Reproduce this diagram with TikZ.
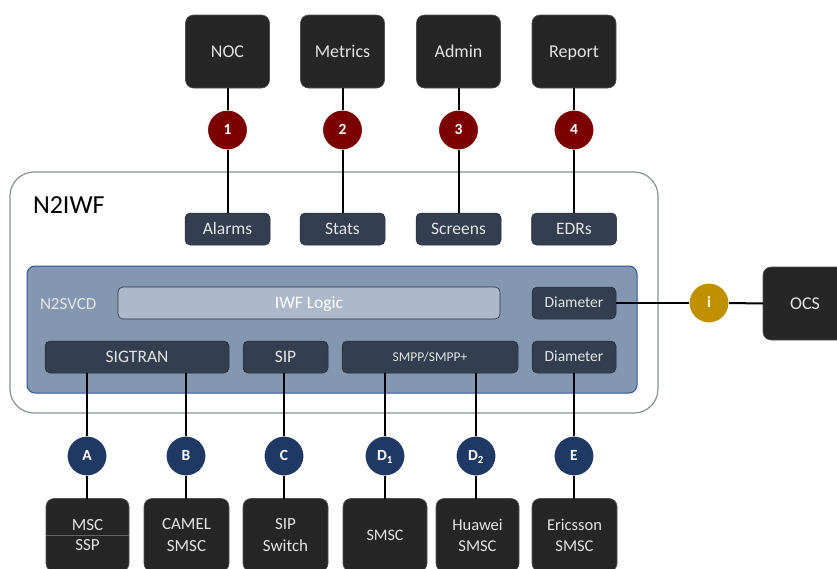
\documentclass[tikz,border=0pt]{standalone}
\usepackage{fontspec}
\setmainfont{Carlito}
\definecolor{boxdark}{HTML}{262626}
\definecolor{slate}{HTML}{333F50}
\definecolor{svcfill}{HTML}{8497B0}
\definecolor{svcedge}{HTML}{2F5597}
\definecolor{logicfill}{HTML}{ADB9CA}
\definecolor{frame}{HTML}{8A909A}
\definecolor{maroon}{HTML}{7B0000}
\definecolor{navy}{HTML}{1F3864}
\definecolor{gold}{HTML}{BF9000}
\definecolor{softtext}{HTML}{E4E4E4}
\begin{document}
\begin{tikzpicture}[x=1pt,y=-1pt,
  font=\fontsize{17}{21}\selectfont,
  every node/.style={inner sep=0pt,outer sep=0pt},
  capcentre/.style={text height=#1,text depth=0pt},
  darkbox/.style={fill=boxdark,draw=boxdark!80!white,line width=0.6pt,rounded corners=8pt,
    minimum width=84pt,minimum height=73pt,text=softtext,align=center},
  endpoint/.style={darkbox,capcentre=11.4pt,font=\fontsize{18}{22}\selectfont},
  lower/.style={darkbox,font=\fontsize{17}{21.5}\selectfont},
  module/.style={fill=slate,draw=slate!70!black,line width=0.5pt,rounded corners=5pt,
    minimum height=32pt,text=softtext,capcentre=11.1pt,font=\fontsize{17.5}{20}\selectfont},
  smallmod/.style={module,capcentre=9.8pt,font=\fontsize{15.5}{18}\selectfont},
  badge/.style={circle,minimum size=40pt,draw=white,line width=1pt,text=white,
    capcentre=9.8pt,font=\bfseries\fontsize{15.5}{17}\selectfont},
  redbadge/.style={badge,fill=maroon},
  bluebadge/.style={badge,fill=navy},
  goldbadge/.style={badge,fill=gold},
  link/.style={line width=2pt,black}]
\clip (0,0) rectangle (837,568);
\fill[white] (0,0) rectangle (837,568);

% outer N2IWF frame and the service container inside it
\node[draw=frame,line width=1.2pt,fill=white,rounded corners=24pt,
  minimum width=648pt,minimum height=241pt] (iwf) at (334,292.5) {};
\node[anchor=west,capcentre=16.4pt,font=\fontsize{26}{30}\selectfont] (iwflabel) at (33,205) {N2IWF};
\node[draw=svcedge,line width=1pt,fill=svcfill,rounded corners=8pt,
  minimum width=610pt,minimum height=127pt] (svcd) at (332,329.5) {};
\node[anchor=west,text=softtext,capcentre=10.8pt,font=\fontsize{17}{20}\selectfont] (svcdlabel) at (40,304) {N2SVCD};

% top endpoints
\node[endpoint] (noc) at (227.5,51.5) {NOC};
\node[endpoint] (metrics) at (342.5,51.5) {Metrics};
\node[endpoint] (admin) at (458.5,51.5) {Admin};
\node[endpoint] (report) at (574,51.5) {Report};

% management outputs
\node[module,minimum width=85pt] (alarms) at (227.5,229) {Alarms};
\node[module,minimum width=85pt] (stats) at (342.5,229) {Stats};
\node[module,minimum width=85pt] (screens) at (458.5,229) {Screens};
\node[module,minimum width=85pt] (edrs) at (574,229) {EDRs};

% service modules
\node[fill=logicfill,draw=slate!80!black,line width=0.6pt,rounded corners=5pt,
  minimum width=382pt,minimum height=32pt,text=white,capcentre=11.1pt,
  font=\fontsize{17.5}{20}\selectfont] (logic) at (309,303) {IWF Logic};
\node[smallmod,minimum width=84pt] (diamtop) at (574,303) {Diameter};
\node[module,minimum width=184pt] (sigtran) at (137,357) {SIGTRAN};
\node[module,minimum width=85pt] (sip) at (285.5,357) {SIP};
\node[smallmod,minimum width=176pt,capcentre=8.5pt,font=\fontsize{13.5}{16}\selectfont] (smpp) at (430,357) {SMPP/SMPP+};
\node[smallmod,minimum width=84pt] (diambot) at (574,357) {Diameter};

% charging side
\node[endpoint] (ocs) at (805,303.5) {OCS};
\node[goldbadge] (bi) at (709,303) {i};

% numbered badges
\node[redbadge] (b1) at (227.5,130) {1};
\node[redbadge] (b2) at (342.5,130) {2};
\node[redbadge] (b3) at (458.5,130) {3};
\node[redbadge] (b4) at (574,130) {4};

\node[bluebadge] (ba) at (87,456) {A};
\node[bluebadge] (bb) at (186,456) {B};
\node[bluebadge] (bc) at (284,456) {C};
\node[bluebadge] (bd1) at (385,456) {D\textsubscript{1}};
\node[bluebadge] (bd2) at (476,456) {D\textsubscript{2}};
\node[bluebadge] (be) at (574,456) {E};

% bottom network elements
\node[lower,minimum width=83pt] (msc) at (87.5,535) {};
\node[text=softtext,capcentre=10.8pt,font=\fontsize{17}{21}\selectfont] (msctext) at (87.5,525) {MSC};
\node[text=softtext,capcentre=10.8pt,font=\fontsize{17}{21}\selectfont] (ssptext) at (87.5,545.5) {SSP};
\draw[line width=1pt,black!60] (msc.west) -- (msc.east);
\node[lower,minimum width=85pt] (camel) at (186.5,535) {CAMEL\\SMSC};
\node[lower,minimum width=85pt] (sipsw) at (285.5,535) {SIP\\Switch};
\node[lower,minimum width=84pt,capcentre=10.1pt,font=\fontsize{16}{20}\selectfont] (smsc) at (385,535) {SMSC};
\node[lower,minimum width=83pt,font=\fontsize{16.5}{21}\selectfont] (huawei) at (477.5,535) {Huawei\\SMSC};
\node[lower,minimum width=85pt,font=\fontsize{16.5}{21}\selectfont] (ericsson) at (574.5,535) {Ericsson\\SMSC};

% connectors: top
\foreach \top/\badge/\mod in {noc/b1/alarms,metrics/b2/stats,admin/b3/screens,report/b4/edrs}{
  \draw[link] (\top.south) -- (\badge.north);
  \draw[link] (\badge.south) -- (\mod.north);
}
% connectors: charging interface
\draw[link] (diamtop.east) -- (bi.west);
\draw[link] (bi.east) -- (ocs.west);
% connectors: bottom
\foreach \badge/\mod/\elem in {ba/sigtran/msc,bb/sigtran/camel,bc/sip/sipsw,bd1/smpp/smsc,bd2/smpp/huawei,be/diambot/ericsson}{
  \draw[link] (\badge |- \mod.south) -- (\badge.north);
  \draw[link] (\badge.south) -- (\badge |- \elem.north);
}
\end{tikzpicture}
\end{document}
